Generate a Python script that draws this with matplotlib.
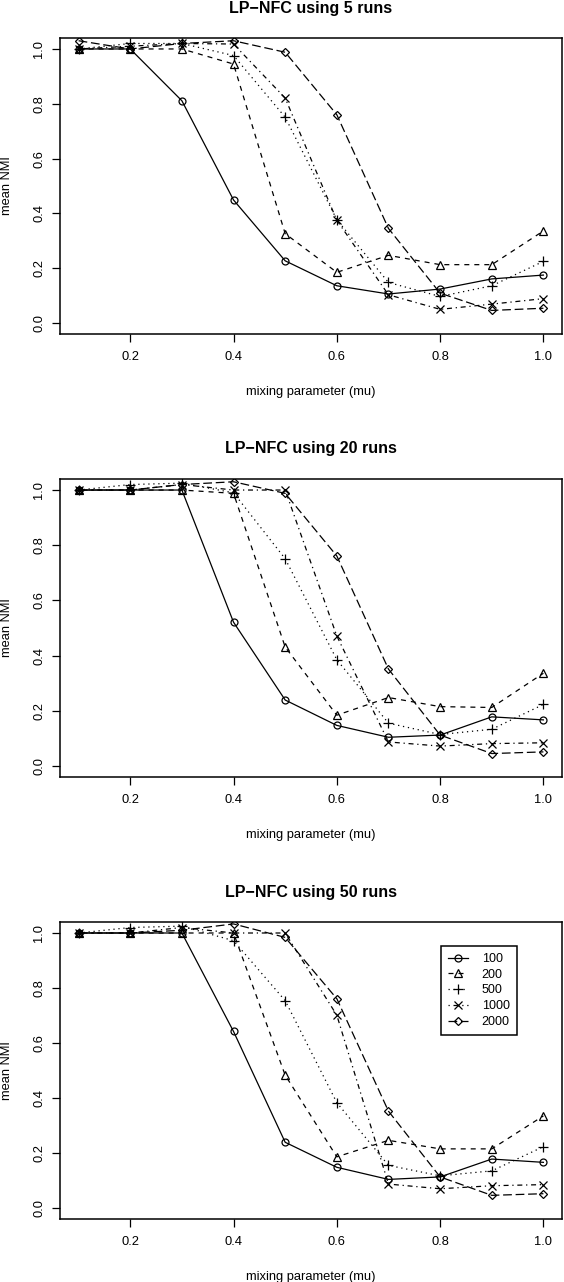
import matplotlib
matplotlib.use("Agg")
import matplotlib.pyplot as plt

plt.rcParams["font.family"] = ["Liberation Sans", "DejaVu Sans"]

W, H = 564, 1282

mu = [0.1, 0.2, 0.3, 0.4, 0.5, 0.6, 0.7, 0.8, 0.9, 1.0]
sizes = ["100", "200", "500", "1000", "2000"]
runs = [5, 20, 50]

# mean NMI per network size, one block per number of runs
nmi_5 = {
    "100": [1.0, 1.0, 0.811, 0.449, 0.227, 0.136, 0.106, 0.124, 0.161, 0.175],
    "200": [1.0, 1.0, 1.0, 0.945, 0.326, 0.185, 0.247, 0.213, 0.213, 0.336],
    "500": [1.0, 1.02, 1.02, 0.976, 0.751, 0.377, 0.148, 0.097, 0.136, 0.225],
    "1000": [1.0, 1.01, 1.02, 1.018, 0.821, 0.375, 0.103, 0.050, 0.069, 0.089],
    "2000": [1.03, 1.0, 1.02, 1.03, 0.988, 0.760, 0.345, 0.109, 0.046, 0.054],
}
nmi_20 = {
    "100": [1.0, 1.0, 1.0, 0.521, 0.239, 0.147, 0.104, 0.112, 0.178, 0.167],
    "200": [1.0, 1.0, 1.0, 0.988, 0.431, 0.184, 0.248, 0.215, 0.212, 0.336],
    "500": [1.0, 1.02, 1.025, 0.99, 0.751, 0.385, 0.155, 0.114, 0.133, 0.223],
    "1000": [1.0, 1.0, 1.02, 1.0, 1.0, 0.471, 0.087, 0.072, 0.081, 0.084],
    "2000": [1.0, 1.0, 1.02, 1.03, 0.988, 0.761, 0.351, 0.112, 0.045, 0.051],
}
nmi_50 = {
    "100": [1.0, 1.0, 1.0, 0.642, 0.239, 0.148, 0.104, 0.113, 0.178, 0.166],
    "200": [1.0, 1.0, 1.0, 1.0, 0.483, 0.186, 0.246, 0.215, 0.215, 0.335],
    "500": [1.0, 1.02, 1.025, 0.972, 0.754, 0.383, 0.155, 0.117, 0.135, 0.223],
    "1000": [1.0, 1.0, 1.02, 1.0, 1.0, 0.701, 0.087, 0.070, 0.081, 0.085],
    "2000": [1.0, 1.0, 1.01, 1.033, 0.984, 0.761, 0.352, 0.113, 0.046, 0.052],
}
all_nmi = [nmi_5, nmi_20, nmi_50]

markers = {"100": "o", "200": "^", "500": "+", "1000": "x", "2000": "D"}
msizes = {"100": 5.0, "200": 5.5, "500": 7.0, "1000": 6.0, "2000": 4.5}
dashes = {
    "100": "-",
    "200": (0, (4, 4)),
    "500": (0, (1, 3)),
    "1000": (0, (1, 3, 4, 3)),
    "2000": (0, (7, 3)),
}

# axes boxes in pixels: (top, bottom)
boxes = [(38, 334), (479, 777), (922, 1219)]
left, right = 60, 562
FS = 9.3

fig = plt.figure(figsize=(W / 100, H / 100), dpi=100)

for i, (nmi, nr, (top, bot)) in enumerate(zip(all_nmi, runs, boxes)):
    h = bot - top
    ax = fig.add_axes([left / W, 1 - bot / H, (right - left) / W, h / H])
    for s in sizes:
        ax.plot(
            mu, nmi[s], color="black", lw=0.9, linestyle=dashes[s],
            marker=markers[s], markersize=msizes[s], markerfacecolor="none",
            markeredgecolor="black", markeredgewidth=0.9, label=s,
        )
    ax.set_xlim(0.064, 1.036)
    ax.set_ylim(-0.04, 1.04)
    ax.set_xticks([0.2, 0.4, 0.6, 0.8, 1.0])
    ax.set_xticklabels(["0.2", "0.4", "0.6", "0.8", "1.0"], fontsize=FS)
    ax.set_yticks([0.0, 0.2, 0.4, 0.6, 0.8, 1.0])
    ax.set_yticklabels(["0.0", "0.2", "0.4", "0.6", "0.8", "1.0"], fontsize=FS,
                       rotation=90, va="center")
    ax.tick_params(direction="out", length=5.5, width=0.9)
    ax.tick_params(axis="x", pad=7)
    ax.tick_params(axis="y", pad=5)
    for sp in ax.spines.values():
        sp.set_linewidth(1.1)
    ax.set_xlabel("mixing parameter (mu)", fontsize=FS)
    ax.xaxis.set_label_coords(0.5, -58 / h)
    ax.xaxis.label.set_va("center")
    ax.set_ylabel("mean NMI", fontsize=FS)
    ax.yaxis.set_label_coords((7 - left) / (right - left), 0.5)
    ax.yaxis.label.set_va("center")
    fig.text((left + right) / 2 / W, 1 - (top - 30) / H, f"LP\u2212NFC using {nr} runs",
             ha="center", va="center", fontsize=11.5, fontweight="bold")

    if i == 2:
        leg = ax.legend(
            loc="upper left", bbox_to_anchor=(441 / W, 1 - 946 / H),
            bbox_transform=fig.transFigure, fontsize=9, frameon=True,
            fancybox=False, edgecolor="black", framealpha=1, handlelength=1.6,
            borderpad=0.55, labelspacing=0.3, handletextpad=1.1, borderaxespad=0,
        )
        leg.get_frame().set_linewidth(1.1)

fig.savefig("out.png", dpi=100)
